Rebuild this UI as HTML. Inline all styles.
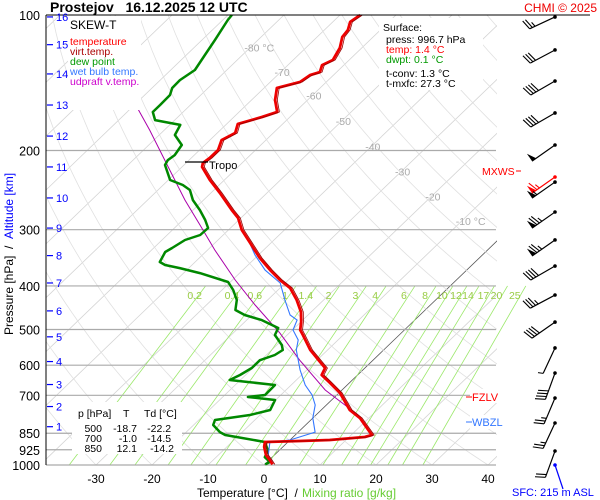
<!DOCTYPE html>
<html><head><meta charset="utf-8"><style>
body{margin:0;background:#fff}
svg{display:block;font-family:"Liberation Sans",sans-serif}
</style></head><body>
<svg id="chart" width="600" height="500" viewBox="0 0 600 500">
<defs><clipPath id="plotclip"><rect x="46" y="15" width="451" height="450"/></clipPath></defs>
<rect x="0" y="0" width="600" height="500" fill="#fff"/>
<g id="grid" clip-path="url(#plotclip)"></g>
<g id="isolab"></g>
<g id="mix"></g>
<g id="plines"></g>
<g id="series"></g>
<g id="wind"></g>
<g id="axes"></g>

<text x="50" y="12" font-size="14" font-weight="bold">Prostejov&#160;&#160;&#160;16.12.2025 12 UTC</text>
<text x="597" y="12" font-size="12" fill="#e00" text-anchor="end">CHMI © 2025</text>

<g>
<rect x="68" y="16" width="73" height="94" fill="#fff"/>
<text x="70" y="29" font-size="12">SKEW-T</text>
<text x="70" y="45" font-size="10.5" fill="#f00">temperature</text>
<text x="70" y="55" font-size="10.5" fill="#a00">virt.temp.</text>
<text x="70" y="65" font-size="10.5" fill="#090">dew point</text>
<text x="70" y="75" font-size="10.5" fill="#37f">wet bulb temp.</text>
<text x="70" y="85" font-size="10.5" fill="#c0c">udpraft v.temp.</text>
</g>

<g>
<rect x="379" y="18" width="104" height="72" fill="#fff"/>
<text x="383" y="31" font-size="10.5">Surface:</text>
<text x="386" y="43" font-size="10.5">press: 996.7 hPa</text>
<text x="386" y="53" font-size="10.5" fill="#f00">temp: 1.4 °C</text>
<text x="386" y="63" font-size="10.5" fill="#090">dwpt: 0.1 °C</text>
<text x="386" y="77" font-size="10.5">t-conv: 1.3 °C</text>
<text x="386" y="87" font-size="10.5">t-mxfc: 27.3 °C</text>
</g>

<g id="tbl">
<rect x="72" y="402" width="110" height="52" fill="#fff"/>
<text x="78" y="417" font-size="10.5">p [hPa]&#160;&#160;&#160;&#160;T&#160;&#160;&#160;&#160;&#160;Td [°C]</text>
<text font-size="10.5">
<tspan x="102" y="432" text-anchor="end">500</tspan><tspan x="137" y="432" text-anchor="end">-18.7</tspan><tspan x="174" y="432" text-anchor="end">-22.2</tspan>
<tspan x="102" y="442" text-anchor="end">700</tspan><tspan x="137" y="442" text-anchor="end">-1.0</tspan><tspan x="174" y="442" text-anchor="end">-14.5</tspan>
<tspan x="102" y="452" text-anchor="end">850</tspan><tspan x="137" y="452" text-anchor="end">12.1</tspan><tspan x="174" y="452" text-anchor="end">-14.2</tspan>
</text>
</g>

<g>
<line x1="185" y1="162" x2="208" y2="162" stroke="#000" stroke-width="1.2"/>
<text x="209" y="169" font-size="11">Tropo</text>
<rect x="470" y="389" width="38" height="14" fill="#fff"/>
<line x1="466" y1="397" x2="472" y2="397" stroke="#f00"/>
<text x="472" y="401" font-size="11" fill="#f00">FZLV</text>
<rect x="470" y="415" width="35" height="14" fill="#fff"/>
<line x1="466" y1="422" x2="472" y2="422" stroke="#37f"/>
<text x="472" y="426" font-size="11" fill="#37f">WBZL</text>
<text x="482" y="175" font-size="10.5" fill="#f00">MXWS</text>
<line x1="516" y1="171" x2="521" y2="171" stroke="#f00"/>
<line x1="555" y1="465" x2="563" y2="489" stroke="#00f" stroke-width="1.2"/>
<circle cx="555" cy="465" r="1.8" fill="#00f"/>
<text x="512" y="496" font-size="11" fill="#00f">SFC: 215 m ASL</text>
</g>

<g>
<text x="197" y="497" font-size="12">Temperature [°C]&#160;&#160;/</text>
<text x="302" y="497" font-size="12" fill="#6c3">Mixing ratio [g/kg]</text>
<text transform="translate(13,335) rotate(-90)" font-size="12"><tspan>Pressure [hPa]&#160;&#160;/&#160;&#160;</tspan><tspan fill="#00f">Altitude [km]</tspan></text>
</g>

<script>
// ---- data ----
const pLevels=[100,200,300,400,500,600,700,850,925,1000];
const tTicks=[-30,-20,-10,0,10,20,30,40];
const isoLabels=[-80,-70,-60,-50,-40,-30,-20,-10];
const mixVals=[0.2,0.4,0.6,1,1.4,2,3,4,6,8,10,12,14,17,20,25];
const altKm=[16,15,14,13,12,11,10,9,8,7,6,5,4,3,2,1];
const altP=[101,116.4,135.2,158.5,185.8,217.6,255,297.5,342.5,394,454.5,519,589,662.5,741.5,822];
const tempP=[100,103.6,108,111.9,118.4,125.9,129.2,133.9,136,140.9,145.3,154.5,164.3,168.5,174.7,182.9,189.7,199.5,207.8,213.2,217.6,232.6,248.6,271.3,282.6,300.5,321.1,346.7,368.8,388.1,404.3,429.9,457.1,481.3,501.2,514.1,555.1,590.4,608.7,631,657.5,691.8,754.7,786.4,835.6,857.7,866.6,880,884.5,889.2,912,950,974.8,996.7];
const tempT=[-66.4,-66.9,-65.8,-65.5,-63.9,-62.9,-63.9,-63.0,-64.2,-64.7,-67.7,-65.8,-63.2,-65.0,-68.0,-66.8,-67.9,-66.7,-66.7,-67.0,-66.4,-62.6,-58.4,-53.1,-50.5,-47.6,-43.7,-39.2,-35.1,-31.5,-28.2,-24.8,-21.8,-19.9,-18.6,-17.2,-13.1,-9.1,-7.1,-6.4,-3.4,0.2,5.1,8.4,12.1,13.7,12.8,7.1,2.0,-4.1,-3.3,-1.5,0.1,1.4];
const dewP=[100,102.6,113.6,122.7,132.5,139.5,145.3,150.6,158.5,164.3,171.2,172.9,175.5,184.8,194.5,204.8,210.1,215.4,232.6,238.7,244.9,257.8,271.3,285.5,297.4,308.3,316.2,329.5,336.3,353.9,359.4,365.1,374.5,392.1,408.5,429.9,452.4,464.2,476.4,496.2,514.1,541.2,555.1,569.6,584.8,608.7,631,647.4,654.1,664.1,699.1,706.3,717,754.7,774.3,794.3,815.1,844.9,857.7,889.2,926.4,960.9,984.8,996.7];
const dewT=[-89.3,-89.1,-87.7,-86.7,-85.7,-86.5,-86.4,-85.5,-85.4,-85.4,-83.5,-81.4,-78.1,-77.2,-74.1,-73.5,-73.8,-73.4,-69.7,-66.5,-64.3,-61.9,-58.8,-56.0,-54.0,-54.1,-55.9,-56.7,-57.2,-56.3,-54.8,-51.6,-47.1,-40.4,-38.0,-35.5,-33.9,-31.3,-27.3,-22.9,-22.2,-19.1,-18.0,-18.5,-20.2,-20.2,-21.0,-21.9,-18.3,-12.9,-12.8,-15.5,-10.1,-9.1,-11.8,-17.1,-16.5,-14.0,-12.5,-4.1,-2.1,-1.3,0.5,0.1];
const wetP=[316.2,341.5,368.8,394.1,429.9,464.2,476.4,501.2,527.5,555.1,615,664.1,699.1,735.6,786.4,844.9,880,889.2,950,984.8];
const wetT=[-44.6,-40.6,-36.0,-30.9,-26.9,-23.2,-21.0,-19.9,-17.1,-15.6,-11.2,-7.5,-4.4,-2.0,0.0,3.0,0.0,-3.2,-1.1,0.9];
const parP=[102.6,125.9,150.6,180.2,221.1,257.8,292.9,332.9,388.1,441,508.8,584.8,681.3,735.6,774];
const parT=[-114.3,-102.7,-92.6,-82.6,-71.6,-63.3,-56.0,-48.7,-39.5,-31.3,-21.7,-13.1,-3.0,3.3,7.5];
const windP=[101,119.6,140.2,165.1,194.5,229.1,235.1,274.1,316.2,361.3,419.1,481.3,549.5,624.6,709.9,806.6,931];
const windKt=[25,30,40,40,50,65,55,75,75,40,35,40,5,40,25,25,20];
const windDir=[245,242,240,240,235,235,235,235,235,240,242,235,205,200,203,205,200];

// ---- scales ----
const NS="http://www.w3.org/2000/svg";
function yP(p){return 15+450*Math.log10(p/100);}
function xT(T,p){return 264+5.6*T+1.04*(465-yP(p));}
function mk(tag,attrs,parent){const e=document.createElementNS(NS,tag);for(const k in attrs)e.setAttribute(k,attrs[k]);parent.appendChild(e);return e;}
function pathOf(ps,ts){return ps.map((p,i)=>(i?'L':'M')+xT(ts[i],p).toFixed(1)+','+yP(p).toFixed(1)).join('');}
const gridG=document.getElementById('grid');
for(let T=-130;T<=50;T+=10){
  const l=mk('line',{x1:xT(T,1000),y1:yP(1000),x2:xT(T,100),y2:yP(100),stroke:T===0?'#555':'#d4d4d4','stroke-width':0.8},gridG);
  
  
}
for(let th=-40;th<=220;th+=10){
  let d='';
  for(let p=1050;p>=95;p-=10){const T=(th+273.15)*Math.pow(p/1000,0.286)-273.15;d+=(d?'L':'M')+xT(T,p).toFixed(1)+','+yP(p).toFixed(1);}
  const a=mk('path',{d:d,fill:'none',stroke:'#e0e0e0','stroke-width':0.8},gridG);
  
  
}
const mixG=document.getElementById('mix');
function tdOf(w,p){const e=w*p/(622+w);const g=Math.log(e/6.112);return 243.5*g/(17.67-g);}
mixVals.forEach(w=>{
  const l=mk('line',{x1:xT(tdOf(w,1000),1000),y1:yP(1000),x2:xT(tdOf(w,400),400),y2:yP(400),stroke:'#9be86a','stroke-width':0.8},mixG);
  
  
  const t=mk('text',{x:xT(tdOf(w,400),400)-11,y:299,'font-size':10.5,fill:'#9c4','text-anchor':'middle'},mixG);
  t.textContent=String(w);
  
  
});
const isoG=document.getElementById('isolab');
const isoLabP=[118,134,151,172,196,223,253,287];
isoLabels.forEach((T,i)=>{
  const p=isoLabP[i];
  const t=mk('text',{x:xT(T,p)-6,y:yP(p)+4,'font-size':10.5,fill:'#aaa'},isoG);
  t.textContent=(T===-80||T===-10)?T+' °C':String(T);
  
  
});
const plG=document.getElementById('plines'),axG=document.getElementById('axes');
pLevels.forEach(p=>{
  if(p!==100){const l=mk('line',{x1:46,y1:yP(p),x2:496,y2:yP(p),stroke:'#aaa','stroke-width':1.2},plG);
  
  }
  const t=mk('text',{x:40,y:yP(p)+5,'font-size':12.5,'text-anchor':'end'},axG);
  t.textContent=String(p);
  
  
});
const topBorder=mk('line',{x1:46,y1:15,x2:590,y2:15,stroke:'#000','stroke-width':1},axG);


const yAxisLine=mk('line',{x1:46,y1:15,x2:46,y2:465,stroke:'#000','stroke-width':1},axG);


tTicks.forEach(T=>{
  const t=mk('text',{x:xT(T,1000),y:483,'font-size':12,'text-anchor':'middle'},axG);
  t.textContent=String(T);
  
  
});
altKm.forEach((k,i)=>{
  const y=yP(altP[i]);
  const l=mk('line',{x1:47,y1:y,x2:53,y2:y,stroke:'#00f','stroke-width':1.2},axG);
  
  
  const t=mk('text',{x:56,y:y+4,'font-size':11,fill:'#00f'},axG);
  t.textContent=String(k);
  
  
});
const seG=document.getElementById('series');
const s1=mk('path',{d:pathOf(parP,parT),fill:'none',stroke:'#a0a','stroke-width':1},seG);


const s2=mk('path',{d:pathOf(dewP,dewT),fill:'none',stroke:'#080','stroke-width':2.5,'stroke-linejoin':'round'},seG);


const s3=mk('path',{d:pathOf(wetP,wetT),fill:'none',stroke:'#37f','stroke-width':1.1},seG);


const s4=mk('path',{d:pathOf(tempP,tempT),fill:'none',stroke:'#e00','stroke-width':2.8,'stroke-linejoin':'round'},seG);


const s5=mk('path',{d:pathOf(tempP,tempT.map(t=>t+0.4)),fill:'none',stroke:'#900','stroke-width':0.8},seG);


const wg=document.getElementById('wind');
windP.forEach((p,i)=>{
  const y=yP(p),x=555,col=(i===5)?'#f00':'#000';
  const a=windDir[i]*Math.PI/180;
  const ux=Math.sin(a),uy=-Math.cos(a);
  const L=28;
  const ex=x+ux*L,ey=y+uy*L;
  const g=mk('g',{},wg);
  
  
  mk('line',{x1:x,y1:y,x2:ex,y2:ey,stroke:col,'stroke-width':1.2},g);
  mk('circle',{cx:x,cy:y,r:1.8,fill:col},g);
  const px=-uy,py=ux;
  let s=windKt[i],pos=0;
  while(s>=50){const bx=ex-ux*pos,by=ey-uy*pos;
    mk('polygon',{points:`${bx},${by} ${bx+px*9},${by+py*9} ${bx-ux*5},${by-uy*5}`,fill:col},g);pos+=6;s-=50;}
  while(s>=10){const bx=ex-ux*pos,by=ey-uy*pos;
    mk('line',{x1:bx,y1:by,x2:bx+px*10+ux*3,y2:by+py*10+uy*3,stroke:col,'stroke-width':1.1},g);pos+=3;s-=10;}
  if(s>=5){const bx=ex-ux*pos,by=ey-uy*pos;
    mk('line',{x1:bx,y1:by,x2:bx+px*5+ux*1.5,y2:by+py*5+uy*1.5,stroke:col,'stroke-width':1.1},g);}
});
</script>
</svg>
</body></html>
